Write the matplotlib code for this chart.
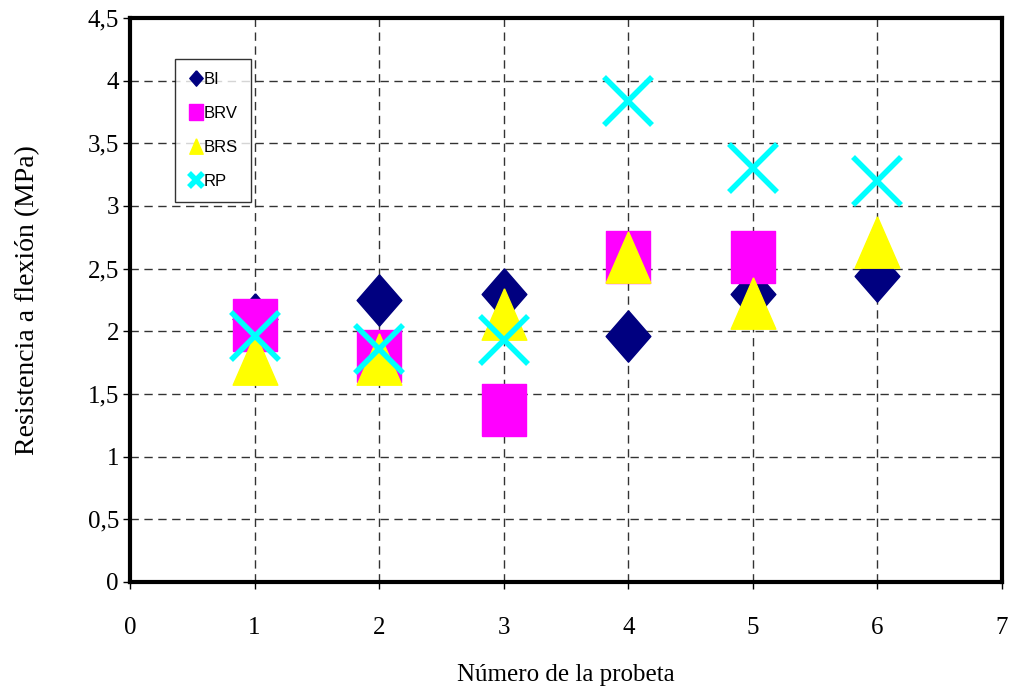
import matplotlib.pyplot as plt
import numpy as np
from matplotlib.lines import Line2D

# data
probeta = [1, 2, 3, 4, 5, 6]
bi = [2.1, 2.25, 2.3, 1.96, 2.3, 2.44]
brv_x = [1, 2, 3, 4, 5]
brv = [2.05, 1.8, 1.37, 2.59, 2.59]
brs = [1.78, 1.78, 2.14, 2.59, 2.23, 2.71]
rp = [1.96, 1.86, 1.93, 3.84, 3.3, 3.2]

xticks = [0, 1, 2, 3, 4, 5, 6, 7]
yticks = [0, 0.5, 1, 1.5, 2, 2.5, 3, 3.5, 4, 4.5]
ylabels = ["0", "0,5", "1", "1,5", "2", "2,5", "3", "3,5", "4", "4,5"]

# markers are a bit narrower than tall in the original
k = 0.87
diamond = [(0, 1), (k, 0), (0, -1), (-k, 0), (0, 1)]
square = [(-k, -1), (k, -1), (k, 1), (-k, 1), (-k, -1)]
triangle = [(0, 1), (k, -1), (-k, -1), (0, 1)]

plt.rcParams['font.family'] = ['Liberation Serif']

fig = plt.figure(figsize=(10.09, 6.88), dpi=100)
ax = fig.add_axes([130/1009, 1 - 582/688, 872/1009, 564/688])

ms = 37
ax.plot(probeta, bi, ls='none', marker=diamond, ms=ms, color='#000080', mec='#000080', label='BI', zorder=3)
ax.plot(brv_x, brv, ls='none', marker=square, ms=ms, color='#ff00ff', mec='#ff00ff', label='BRV', zorder=4)
ax.plot(probeta, brs, ls='none', marker=triangle, ms=ms, color='#ffff00', mec='#ffff00', label='BRS', zorder=5)
ax.plot(probeta, rp, ls='none', marker='x', ms=34, mew=4, color='#00ffff', label='RP', zorder=6)

ax.set_xlim(0, 7)
ax.set_ylim(0, 4.5)
ax.set_xticks(xticks)
ax.set_xticklabels([str(t) for t in xticks])
ax.set_yticks(yticks)
ax.set_yticklabels(ylabels)
ax.tick_params(axis='both', labelsize=18, length=5, width=1, direction='out')
ax.tick_params(axis='x', pad=20)
ax.tick_params(axis='y', pad=3)

ax.grid(True, color='#333333', ls=(0, (6, 4)), lw=1)
ax.set_axisbelow(True)
for s in ax.spines.values():
    s.set_linewidth(3)

ax.set_xlabel('Número de la probeta', fontsize=18, labelpad=18)
ax.set_ylabel('Resistencia a flexión (MPa)', fontsize=20, labelpad=34)

leg = ax.legend(loc='upper left', bbox_to_anchor=(0.0515, 0.927), markerscale=0.3,
                frameon=True, fancybox=False, prop={'family': 'Liberation Sans', 'size': 12},
                handletextpad=0.0, handlelength=1.0, labelspacing=1.15, borderpad=0.75,
                borderaxespad=0)
leg.get_frame().set_edgecolor('black')
leg.get_frame().set_linewidth(1)

fig.savefig('out.png', dpi=100)
